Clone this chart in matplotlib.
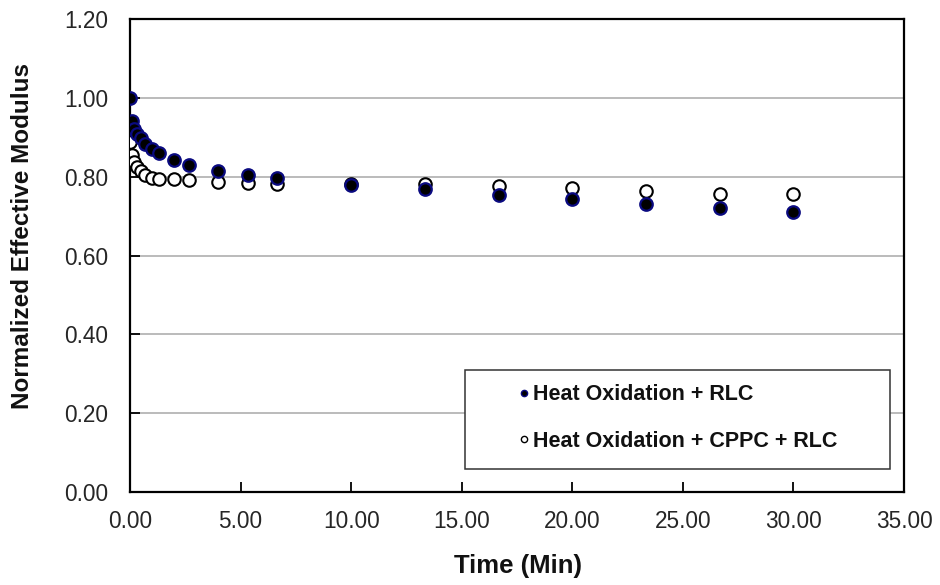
import matplotlib
matplotlib.use("Agg")
import matplotlib.pyplot as plt
from matplotlib.patches import Rectangle

plt.rcParams['font.family'] = ['Liberation Sans', 'DejaVu Sans']

# Elapsed time (minutes)
time_min = [0.0, 0.083, 0.167, 0.333, 0.5, 0.667, 1.0, 1.333, 2.0, 2.667,
            4.0, 5.333, 6.667, 10.0, 13.333, 16.667, 20.0, 23.333, 26.667, 30.0]

# Normalized effective modulus per treatment
heat_rlc = [1.000, 0.943, 0.922, 0.910, 0.899, 0.884, 0.872, 0.860, 0.844, 0.831,
            0.816, 0.804, 0.798, 0.780, 0.770, 0.755, 0.745, 0.732, 0.722, 0.711]
heat_cppc_rlc = [0.888, 0.855, 0.838, 0.825, 0.816, 0.806, 0.798, 0.794, 0.794, 0.791,
                 0.787, 0.785, 0.783, 0.781, 0.783, 0.778, 0.772, 0.764, 0.757, 0.757]

series_labels = ["Heat Oxidation + RLC", "Heat Oxidation + CPPC + RLC"]
x_ticks = [0, 5, 10, 15, 20, 25, 30, 35]
y_ticks = [0.0, 0.2, 0.4, 0.6, 0.8, 1.0, 1.2]

fig = plt.figure(figsize=(9.4, 5.85), dpi=100)
ax = fig.add_axes([130 / 940, 1 - 492 / 585, 774 / 940, 472.7 / 585])

open_line, = ax.plot(time_min, heat_cppc_rlc, linestyle='none', marker='o',
                     markersize=9, markerfacecolor='white', markeredgecolor='black',
                     markeredgewidth=1.5, zorder=3, label=series_labels[1])
filled_line, = ax.plot(time_min, heat_rlc, linestyle='none', marker='o',
                       markersize=9, markerfacecolor='black', markeredgecolor='#0a0a80',
                       markeredgewidth=1.6, zorder=4, label=series_labels[0])

ax.set_xlim(0, 35)
ax.set_ylim(0, 1.2)
ax.set_xticks(x_ticks)
ax.set_yticks(y_ticks)
ax.set_xticklabels([f"{v:.2f}" for v in x_ticks])
ax.set_yticklabels([f"{v:.2f}" for v in y_ticks])

ax.tick_params(axis='x', direction='in', length=7, width=1.3, pad=13,
               labelsize=16.3, labelcolor='#262626', top=False)
ax.tick_params(axis='y', direction='in', length=7, width=1.3, pad=15.5,
               labelsize=16.3, labelcolor='#262626', right=False)

for side in ['left', 'right', 'top', 'bottom']:
    ax.spines[side].set_linewidth(1.6)
    ax.spines[side].set_color('black')

ax.yaxis.grid(True, color='#a8a8a8', linewidth=1.1)
ax.set_axisbelow(True)

ax.set_xlabel("Time (Min)", fontsize=18.5, fontweight='bold', color='#111111')
ax.xaxis.set_label_coords(0.501, -0.1566)
ax.xaxis.label.set_va('center')
ax.set_ylabel("Normalized Effective Modulus", fontsize=17.5, fontweight='bold', color='#111111')
ax.yaxis.set_label_coords(-0.1395, 0.5426)
ax.yaxis.label.set_va('center')

# Legend box with centred entries
frame = Rectangle((0.433, 0.0487), 0.549, 0.2093, transform=ax.transAxes,
                  facecolor='white', edgecolor='#333333', linewidth=1.1, zorder=5)
ax.add_patch(frame)
leg = ax.legend(handles=[filled_line, open_line], labels=series_labels,
                loc='center', bbox_to_anchor=(0.708, 0.1565), frameon=False,
                markerscale=0.5, handlelength=0.5, handletextpad=0.2,
                labelspacing=1.2, borderpad=0,
                prop={'size': 15.5, 'weight': 'bold'})
leg.set_zorder(6)
for txt in leg.get_texts():
    txt.set_color('#111111')
for h in leg.legend_handles:
    h.set_markeredgewidth(1.0)

fig.savefig("out.png", dpi=100)
